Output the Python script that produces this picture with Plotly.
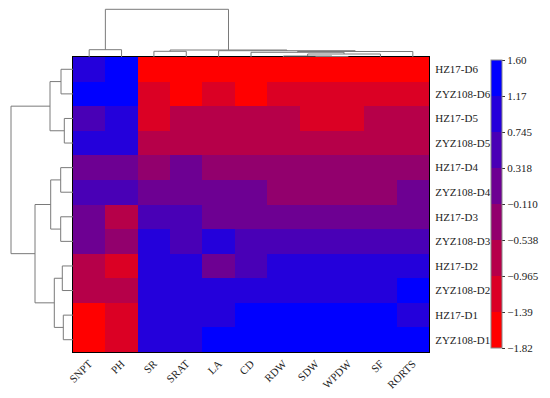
import plotly.graph_objects as go

# ---------------- data ----------------
col_labels = ["SNPT", "PH", "SR", "SRAT", "LA", "CD", "RDW", "SDW", "WPDW", "SF", "RORTS"]
row_labels = ["HZ17-D6", "ZYZ108-D6", "HZ17-D5", "ZYZ108-D5", "HZ17-D4", "ZYZ108-D4",
              "HZ17-D3", "ZYZ108-D3", "HZ17-D2", "ZYZ108-D2", "HZ17-D1", "ZYZ108-D1"]

values = [
    [0.98, 1.42, -1.64, -1.66, -1.63, -1.65, -1.62, -1.64, -1.63, -1.65, -1.62],
    [1.40, 1.41, -1.18, -1.65, -1.17, -1.66, -1.19, -1.18, -1.17, -1.18, -1.19],
    [0.52, 0.97, -1.19, -0.76, -0.75, -0.74, -0.76, -1.17, -1.18, -0.75, -0.76],
    [0.95, 0.96, -0.75, -0.74, -0.76, -0.75, -0.74, -0.75, -0.76, -0.74, -0.75],
    [0.10, 0.11, -0.33, 0.09, -0.32, -0.33, -0.34, -0.32, -0.33, -0.32, -0.33],
    [0.53, 0.52, 0.10, 0.11, 0.09, 0.10, -0.33, -0.32, -0.34, -0.33, 0.10],
    [0.09, -0.75, 0.54, 0.53, 0.10, 0.11, 0.09, 0.10, 0.11, 0.10, 0.09],
    [0.10, -0.33, 0.96, 0.53, 0.97, 0.52, 0.53, 0.54, 0.52, 0.53, 0.53],
    [-0.76, -1.18, 0.95, 0.96, 0.10, 0.53, 0.96, 0.97, 0.95, 0.96, 0.96],
    [-0.75, -0.74, 0.96, 0.95, 0.97, 0.96, 0.95, 0.96, 0.97, 0.96, 1.40],
    [-1.66, -1.19, 0.97, 0.96, 0.95, 1.41, 1.42, 1.40, 1.41, 1.42, 0.96],
    [-1.65, -1.18, 0.96, 0.97, 1.41, 1.42, 1.40, 1.41, 1.42, 1.40, 1.41],
]

zmin, zmax = -1.82, 1.60
cbar_ticks = [-1.82, -1.3925, -0.965, -0.5375, -0.11, 0.3175, 0.745, 1.1725, 1.60]
cbar_text = ["\u22121.82", "\u22121.39", "\u22120.965", "\u22120.538", "\u22120.110",
             "0.318", "0.745", "1.17", "1.60"]
bin_colors = ["#ff0000", "#db0024", "#b60049", "#92006d", "#6d0092", "#4900b6", "#2400db", "#0000ff"]

# column dendrogram linkage: (left, right, height); new node ids start at 11
col_link = [(7, 8, 0.5), (6, 11, 1.0), (12, 9, 3.0), (5, 13, 4.7), (14, 10, 5.5),
            (4, 15, 6.3), (2, 3, 5.7), (17, 16, 7.0), (0, 1, 7.3), (19, 18, 47.7)]
# row dendrogram linkage; new node ids start at 12
row_link = [(0, 1, 12.0), (2, 3, 8.7), (12, 13, 23.0), (4, 5, 12.3), (6, 7, 12.3),
            (15, 16, 22.3), (8, 9, 10.7), (10, 11, 9.7), (18, 19, 18.7), (17, 20, 38.0),
            (14, 21, 62.0)]


def dendro_segments(link, n_leaves):
    pos = {i: float(i) for i in range(n_leaves)}
    hgt = {i: 0.0 for i in range(n_leaves)}
    a, b = [], []  # a: leaf-axis coordinate, b: height coordinate
    for k, (l, r, h) in enumerate(link):
        nid = n_leaves + k
        a += [pos[l], pos[l], pos[r], pos[r], None]
        b += [hgt[l], h, h, hgt[r], None]
        pos[nid] = (pos[l] + pos[r]) / 2
        hgt[nid] = h
    return a, b


# ---------------- figure ----------------
W, H = 550, 398
hx0, hx1 = 73 / W, 429 / W
hy0, hy1 = (H - 352) / H, (H - 57) / H

colorscale = []
for i, c in enumerate(bin_colors):
    colorscale.append([i / 8, c])
    colorscale.append([(i + 1) / 8, c])

font_family = "Liberation Serif, Times New Roman, serif"

fig = go.Figure()
fig.add_trace(go.Heatmap(
    z=values, x=list(range(len(col_labels))), y=list(range(len(row_labels))),
    zmin=zmin, zmax=zmax, colorscale=colorscale, xgap=0, ygap=0,
    colorbar=dict(
        x=491 / W, xanchor="left", y=(H - 204) / H, yanchor="middle",
        len=288 / H, lenmode="fraction", thickness=11, thicknessmode="pixels",
        xpad=0, ypad=0, outlinewidth=1, outlinecolor="#888888",
        tickvals=cbar_ticks, ticktext=cbar_text, ticks="outside", ticklen=3,
        tickcolor="#333333", tickfont=dict(family=font_family, size=11, color="#222222"),
    ),
    xaxis="x", yaxis="y",
))

ca, cb = dendro_segments(col_link, len(col_labels))
fig.add_trace(go.Scatter(x=ca, y=cb, mode="lines", line=dict(color="#7a7a7a", width=1),
                         xaxis="x2", yaxis="y2", hoverinfo="skip", showlegend=False))
ra, rb = dendro_segments(row_link, len(row_labels))
fig.add_trace(go.Scatter(x=rb, y=ra, mode="lines", line=dict(color="#7a7a7a", width=1),
                         xaxis="x3", yaxis="y3", hoverinfo="skip", showlegend=False))

fig.update_layout(
    width=W, height=H, margin=dict(l=0, r=0, t=0, b=0, autoexpand=False),
    paper_bgcolor="white", plot_bgcolor="white", showlegend=False,
    font=dict(family=font_family, size=11, color="#222222"),
    xaxis=dict(domain=[hx0, hx1], range=[-0.5, 10.5], tickvals=list(range(len(col_labels))),
               ticktext=col_labels, tickangle=-45, ticks="", showgrid=False, zeroline=False,
               showline=True, mirror=True, linecolor="black", linewidth=1, automargin=False,
               tickfont=dict(family=font_family, size=11, color="#222222"), anchor="y"),
    yaxis=dict(domain=[hy0, hy1], range=[11.5, -0.5], tickvals=list(range(len(row_labels))),
               ticktext=row_labels, side="right", ticks="", showgrid=False, zeroline=False,
               showline=True, mirror=True, linecolor="black", linewidth=1, automargin=False,
               ticklabelstandoff=3,
               tickfont=dict(family=font_family, size=11, color="#222222"), anchor="x"),
    xaxis2=dict(domain=[hx0, hx1], range=[-0.5, 10.5], visible=False, anchor="y2"),
    yaxis2=dict(domain=[hy1, 1], range=[0, 57], visible=False, anchor="x2"),
    xaxis3=dict(domain=[0, hx0], range=[73, 0], visible=False, anchor="y3"),
    yaxis3=dict(domain=[hy0, hy1], range=[11.5, -0.5], visible=False, anchor="x3"),
)

fig.write_html("out.html", config={"displayModeBar": False},
               post_script="document.body.style.margin='0';document.body.style.padding='0';")
